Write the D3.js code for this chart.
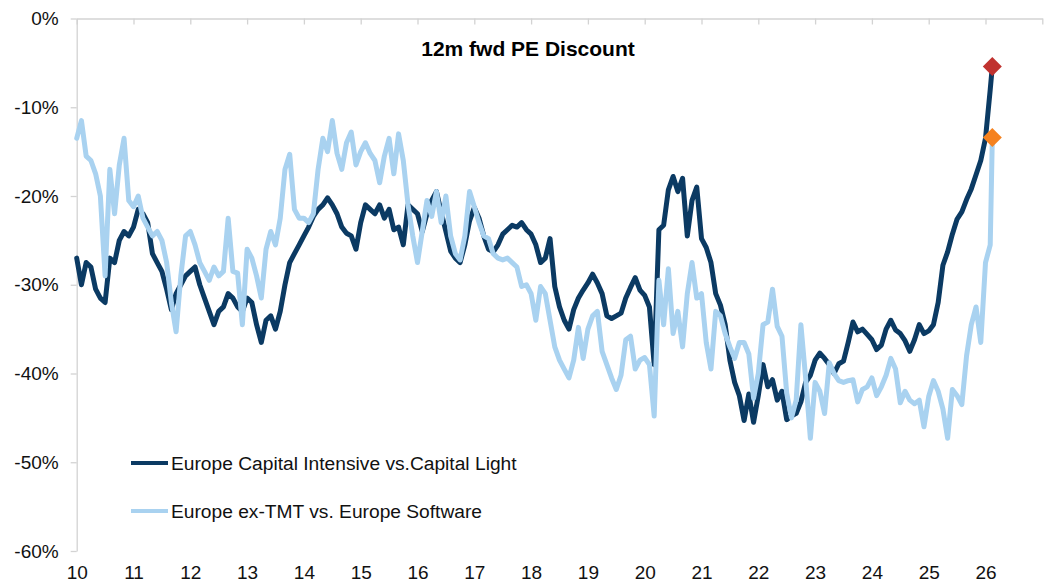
<!DOCTYPE html>
<html>
  <head>
    <style>
      body {
        margin: 0;
        background: #fff;
        font-family: "Liberation Sans", Arial, sans-serif;
      }
      .axis path, .axis line {
        stroke: #d3d3d3;
        stroke-width: 1.3px;
      }
      .axis text {
        font-family: "Liberation Sans", Arial, sans-serif;
        font-size: 19px;
        fill: #111;
      }
      .series-line {
        fill: none;
        stroke-width: 5px;
        stroke-linejoin: round;
        stroke-linecap: round;
      }
    </style>
  </head>
  <body>
    <script src="https://d3js.org/d3.v7.min.js"></script>
    <script>
    // monthly readings, Jan 2010 onwards; the final point is the latest print
      var startYear = 2010, endDate = 2026.12;

      var capIntensive = [
        -27, -30, -27.5, -28, -30.5, -31.5, -32, -27, -27.5, -25, -24, -24.5,
        -23.5, -21.5, -22, -23, -26.5, -27.5, -28.5, -30.5, -32.8, -31, -30, -29,
        -28.5, -28, -30, -31.5, -33, -34.5, -33, -32.5, -31, -31.5, -32.5, -33,
        -31.5, -32, -34.5, -36.5, -34, -33.5, -35, -33, -30, -27.5, -26.5, -25.5,
        -24.5, -23.5, -22.3, -21.5, -21, -20.2, -21, -22, -23.5, -24.2, -24.5, -26,
        -23, -21, -21.5, -22, -21, -22.5, -21.5, -23.8, -23.5, -25.5, -21, -21.5,
        -22, -24, -22, -20.5, -19.5, -21.8, -24, -26.2, -27, -27.5, -25.5, -22.8,
        -21.3, -22.5, -24.5, -26, -26.3, -25.5, -24.3, -23.8, -23.3, -23.5, -23, -23.8,
        -24.3, -25.5, -27.5, -27, -24.8, -30.2, -32.5, -34, -35, -32.8, -31.5, -30.6,
        -29.8, -28.8, -29.8, -31, -33.5, -33.8, -33.5, -33.2, -31.5, -30.3, -29.2, -30.6,
        -31.2, -32.5, -39, -23.8, -23.3, -19.3, -17.8, -19.5, -18, -24.5, -20.5, -19,
        -24.8, -25.8, -27.5, -31, -32.3, -34.5, -38.5, -41, -42.5, -45.3, -42.3, -45.5,
        -42.5, -39, -41.5, -40.7, -43, -42, -45.2, -44.8, -44.5, -43.2, -41, -40.2,
        -38.5, -37.7, -38.3, -39, -40, -38.9, -38.6, -36.5, -34.2, -35.3, -35, -35.6,
        -36.2, -37.3, -36.8, -35, -34, -35.1, -35.5, -36.3, -37.5, -36.2, -34.5, -35.5,
        -35.2, -34.5, -32, -27.8, -26.3, -24.3, -22.6, -21.8, -20.4, -19.2, -17.6, -16,
        -13.5, -8, -5.4
      ];

      var exTmtSoftware = [
        -13.5, -11.5, -15.5, -16, -17.5, -20, -29, -17, -22, -16.5, -13.5, -20.5,
        -21.2, -20, -22.5, -23.5, -24.5, -24, -25, -27.5, -32, -35.3, -29, -24.5,
        -24, -25.5, -27.5, -28.5, -29.5, -28, -29, -28.5, -22.5, -28.5, -28.7, -34.5,
        -26, -27, -29, -31.5, -26, -24, -25.5, -22.5, -17, -15.3, -21.5, -22.5,
        -22.5, -23, -22, -17, -13.5, -15, -11.5, -15.2, -17, -14, -12.8, -16.5,
        -15, -14, -15.2, -16, -18.5, -15.5, -13.5, -17.5, -13, -16, -21, -24.5,
        -27.5, -24, -20.5, -22.3, -19.5, -23, -20, -24.5, -26.5, -27.2, -24.5, -19.5,
        -21.2, -23, -24.5, -24.8, -26.5, -27, -27.2, -27, -27.5, -28, -30.2, -30,
        -31, -34, -30.2, -31, -34, -37, -38.5, -39.5, -40.5, -38.5, -34.8, -38.3,
        -35, -33.5, -33, -37.5, -39, -40.5, -41.8, -40.2, -36.2, -35.8, -39.5, -38.5,
        -38.2, -39, -44.8, -29.5, -34.5, -28.2, -35.5, -33, -37, -31, -27.5, -31.5,
        -31, -36.5, -39.5, -33, -33.5, -35.5, -37, -38.3, -36.5, -36.5, -37.8, -42.8,
        -40, -34.5, -34.2, -30.5, -34.7, -35.8, -42.2, -45, -43, -34.5, -40.5, -47.3,
        -41, -42, -44.5, -38.8, -40, -40.8, -41, -40.8, -40.7, -43.2, -41.8, -41.5,
        -40.5, -42.5, -41.5, -40.2, -38.3, -39.5, -43.3, -42, -43, -43.4, -43, -46,
        -42.6, -40.8, -42, -44, -47.3, -41.8, -42.5, -43.5, -38, -34.5, -32.5, -36.5,
        -27.5, -25.5, -13.4
      ];

      var seriesNames = ["Europe Capital Intensive vs.Capital Light", "Europe ex-TMT vs. Europe Software"];
      var seriesColors = ["#0b3a63", "#a9d2f0"];
      var markerColors = ["#c0322f", "#f5821f"];

      var xTickYears = d3.range(2010, 2028);
      var xTickLabels = ["10", "11", "12", "13", "14", "15", "16", "17", "18", "19", "20", "21", "22", "23", "24", "25", "26"];
      var yTickValues = [0, -10, -20, -30, -40, -50, -60];
      var yTickLabels = ["0%", "-10%", "-20%", "-30%", "-40%", "-50%", "-60%"];

      var width = 1050, height = 584;

      var x_scale = d3.scaleLinear().domain([2010, 2027]).range([76.7, 1042.3]);
      var y_scale = d3.scaleLinear().domain([-60, 0]).range([551, 18.5]);

      var svg = d3.select("body").append("svg")
          .attr("width", width)
          .attr("height", height);

      //top axis line at 0% with ticks pointing down
      svg.append("g")
          .attr("class", "axis")
          .attr("transform", "translate(0," + y_scale(0) + ")")
          .call(d3.axisTop(x_scale).tickValues(xTickYears).tickSizeInner(-6).tickSizeOuter(0).tickFormat(""));

      //year labels sit under the plot
      var xLabels = svg.append("g")
          .attr("class", "axis")
          .attr("transform", "translate(0," + y_scale(-60) + ")")
          .call(d3.axisBottom(x_scale).tickValues(xTickYears.slice(0, xTickLabels.length))
            .tickSize(0).tickPadding(15).tickFormat((d, i) => xTickLabels[i]));
      xLabels.select(".domain").remove();

      svg.append("g")
          .attr("class", "axis")
          .attr("transform", "translate(" + x_scale(2010) + ",0)")
          .call(d3.axisLeft(y_scale).tickValues(yTickValues).tickSize(6).tickSizeOuter(0)
            .tickPadding(12).tickFormat((d, i) => yTickLabels[i]));

      //title
      svg.append("text")
          .attr("x", 528)
          .attr("y", 56)
          .attr("text-anchor", "middle")
          .style("font-size", "21px")
          .style("font-weight", "bold")
          .text("12m fwd PE Discount");

      function toPoints(values) {
        return values.map((v, i) => [i === values.length - 1 ? endDate : startYear + i / 12, v]);
      }
      var allSeries = [toPoints(capIntensive), toPoints(exTmtSoftware)];

      var line_generator = d3.line()
          .x(d => x_scale(d[0]))
          .y(d => y_scale(d[1]));

      svg.selectAll(".series-line")
          .data(allSeries)
        .enter().append("path")
          .attr("class", "series-line")
          .attr("stroke", (d, i) => seriesColors[i])
          .attr("d", line_generator);

      //diamonds on latest values
      svg.selectAll(".last-marker")
          .data(allSeries)
        .enter().append("path")
          .attr("class", "last-marker")
          .attr("d", d3.symbol(d3.symbolSquare, 180))
          .attr("fill", (d, i) => markerColors[i])
          .attr("transform", d => {
            var last = d[d.length - 1];
            return "translate(" + [x_scale(last[0]), y_scale(last[1])] + ") rotate(45)";
          });

      //legend
      var legend = svg.append("g").attr("transform", "translate(131,463)");
      var items = legend.selectAll("g")
          .data(seriesNames)
        .enter().append("g")
          .attr("transform", (d, i) => "translate(0," + i * 48 + ")");
      items.append("line")
          .attr("x1", 0).attr("x2", 37)
          .attr("stroke", (d, i) => seriesColors[i])
          .attr("stroke-width", 4);
      items.append("text")
          .attr("x", 40)
          .attr("y", 7)
          .style("font-size", "19.2px")
          .attr("fill", "#111")
          .text(d => d);
    </script>
  </body>
</html>
